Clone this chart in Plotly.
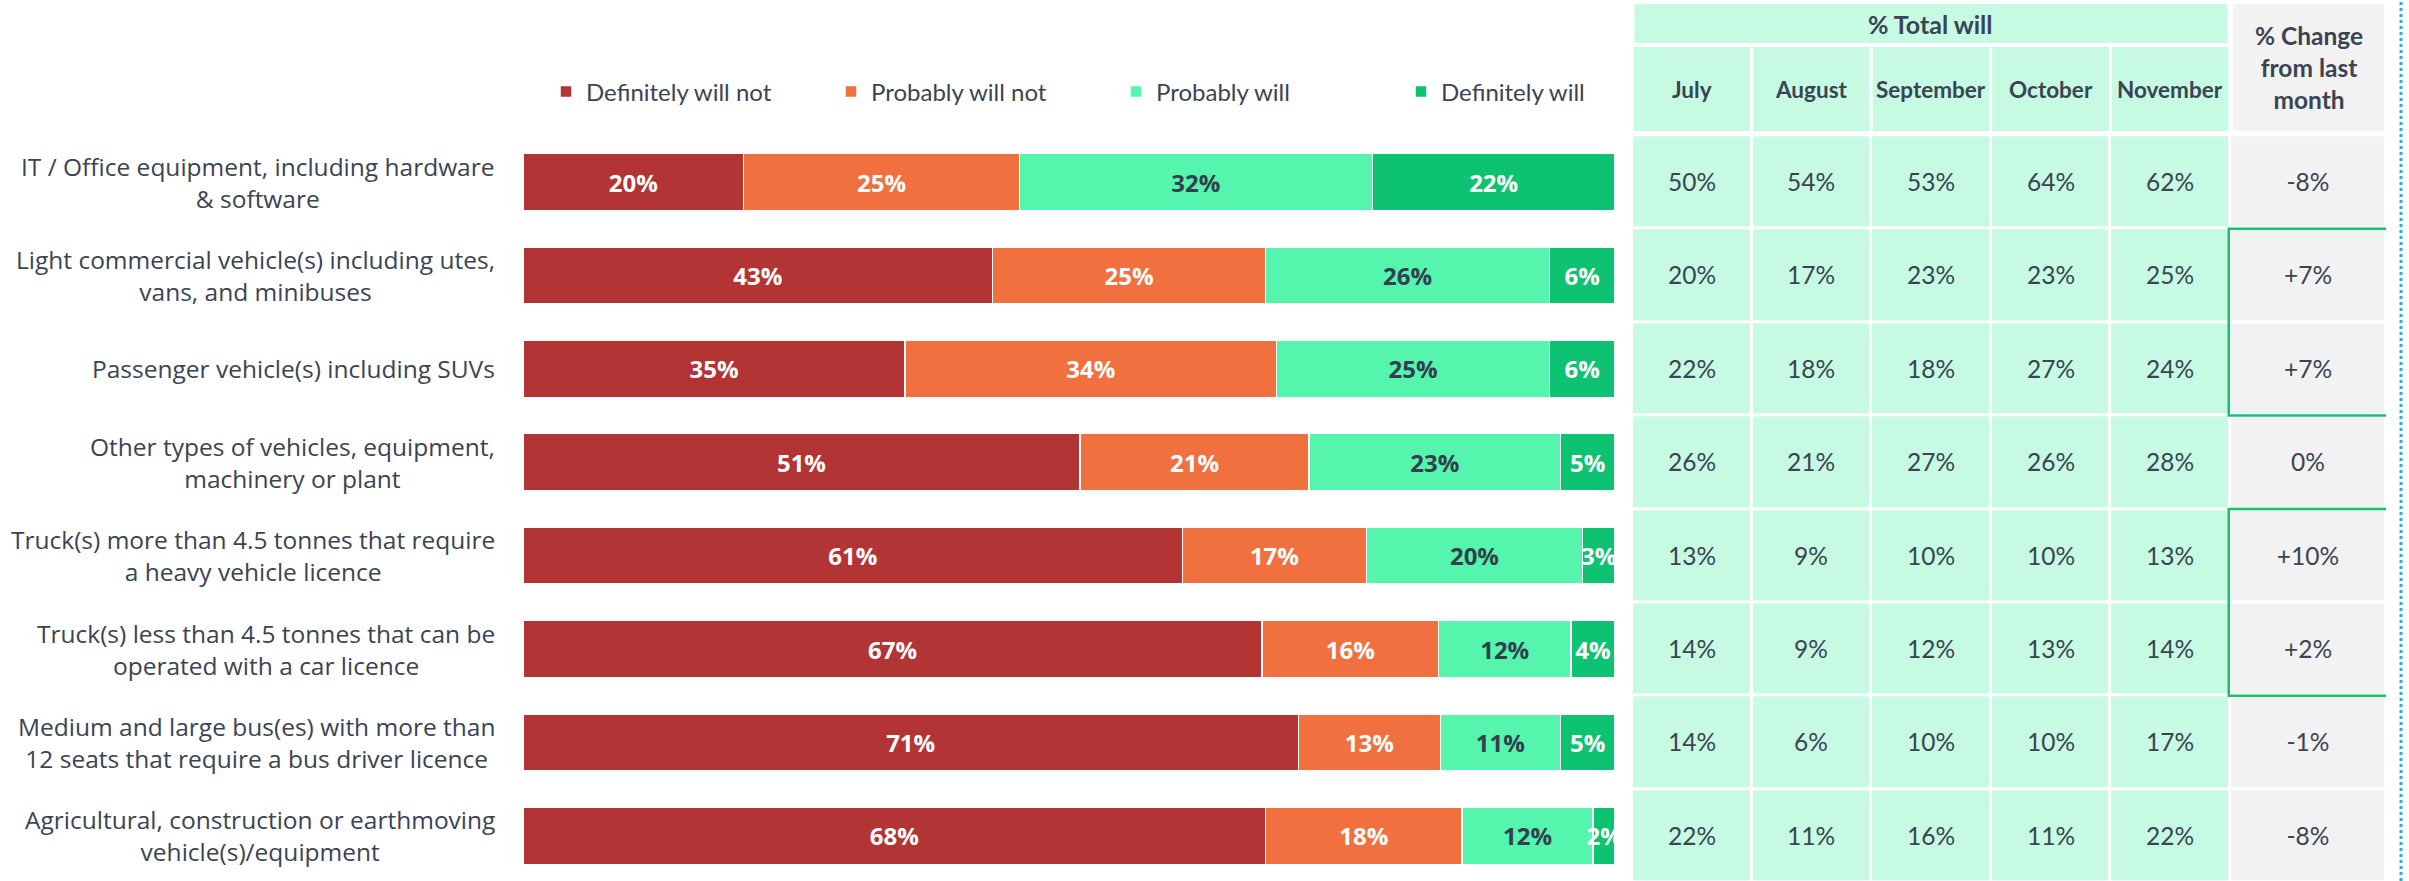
import plotly.graph_objects as go

# ---------------- data ----------------
categories = [
    "IT / Office equipment, including hardware<br>& software",
    "Light commercial vehicle(s) including utes,<br>vans, and minibuses",
    "Passenger vehicle(s) including SUVs",
    "Other types of vehicles, equipment,<br>machinery or plant",
    "Truck(s) more than 4.5 tonnes that require<br>a heavy vehicle licence",
    "Truck(s) less than 4.5 tonnes that can be<br>operated with a car licence",
    "Medium and large bus(es) with more than<br>12 seats that require a bus driver licence",
    "Agricultural, construction or earthmoving<br>vehicle(s)/equipment",
]
series_names = ["Definitely will not", "Probably will not", "Probably will", "Definitely will"]
definitely_not = [20, 43, 35, 51, 61, 67, 71, 68]
probably_not = [25, 25, 34, 21, 17, 16, 13, 18]
probably_will = [32, 26, 25, 23, 20, 12, 11, 12]
definitely_will = [22, 6, 6, 5, 3, 4, 5, 2]

months = ["July", "August", "September", "October", "November"]
july = [50, 20, 22, 26, 13, 14, 14, 22]
august = [54, 17, 18, 21, 9, 9, 6, 11]
september = [53, 23, 18, 27, 10, 12, 10, 16]
october = [64, 23, 27, 26, 10, 13, 10, 11]
november = [62, 25, 24, 28, 13, 14, 17, 22]
change = ["-8%", "+7%", "+7%", "0%", "+10%", "+2%", "-1%", "-8%"]
highlight_groups = [(1, 2), (4, 5)]

# ---------------- styling / geometry ----------------
W, H = 2409, 881
ROW0, PITCH = 182.0, 93.4          # pixel centre of first row, row pitch
def u(py):                          # page pixel -> row units
    return (py - ROW0) / PITCH

colors = ["#B23434", "#F07040", "#55F5AE", "#0DC270"]
label_colors = ["white", "white", "#333F4F", "white"]
TXT = "#3A4452"
MINT = "#C6FAE2"
GRAY = "#F2F2F2"
GREEN_BORDER = "#17C172"

rows = list(range(len(categories)))
series_vals = [definitely_not, probably_not, probably_will, definitely_will]

fig = go.Figure()
for name, vals, col, lc in zip(series_names, series_vals, colors, label_colors):
    fig.add_trace(go.Bar(
        y=rows, x=vals, name=name, orientation="h",
        marker=dict(color=col, line=dict(color="white", width=1.5)),
        text=[f"{v}%" for v in vals], texttemplate="%{text}",
        textposition="inside", insidetextanchor="middle", constraintext="none",
        textangle=0,
        textfont=dict(family="Open Sans", size=24, color=lc, weight=700),
        hoverinfo="skip", xaxis="x", yaxis="y",
    ))

# table as heatmap
month_cols = [july, august, september, october, november]
z, txt = [], []
for i in rows:
    z.append([0] * len(months) + [1])
    txt.append([f"{c[i]}%" for c in month_cols] + [change[i]])
x_edges = [0, 1, 2, 3, 4, 5, 6.305]
y_edges = [r - 0.5 for r in rows] + [rows[-1] + 0.5]
fig.add_trace(go.Heatmap(
    z=z, x=x_edges, y=y_edges, text=txt, texttemplate="%{text}",
    textfont=dict(family="Lato", size=24.5, color=TXT),
    colorscale=[[0, MINT], [0.5, MINT], [0.5, GRAY], [1, GRAY]],
    zmin=0, zmax=1, showscale=False, xgap=3, ygap=3,
    hoverinfo="skip", xaxis="x2", yaxis="y", showlegend=False,
))

shapes, annotations = [], []
# header cells
shapes.append(dict(type="rect", xref="x2", yref="y", x0=0.02, x1=4.98,
                   y0=u(4), y1=u(43), fillcolor=MINT, line_width=0, layer="below"))
for j, m in enumerate(months):
    shapes.append(dict(type="rect", xref="x2", yref="y", x0=j + 0.0125, x1=j + 0.9875,
                       y0=u(47), y1=u(131), fillcolor=MINT, line_width=0, layer="below"))
    annotations.append(dict(xref="x2", yref="y", x=j + 0.5, y=u(89), text=f"<b>{m}</b>",
                            showarrow=False, font=dict(family="Lato", size=22.5, color=TXT)))
annotations.append(dict(xref="x2", yref="y", x=2.5, y=u(24), text="<b>% Total will</b>",
                        showarrow=False, font=dict(family="Lato", size=25, color=TXT)))
shapes.append(dict(type="rect", xref="x2", yref="y", x0=5.025, x1=6.29,
                   y0=u(4), y1=u(131), fillcolor=GRAY, line_width=0, layer="below"))
annotations.append(dict(xref="x2", yref="y", x=5.66, y=u(67),
                        text="<b>% Change<br>from last<br>month</b>",
                        showarrow=False, font=dict(family="Lato", size=24.5, color=TXT)))
# highlight borders
for a, b in highlight_groups:
    shapes.append(dict(type="rect", xref="x2", yref="y", x0=4.99, x1=6.315,
                       y0=a - 0.5, y1=b + 0.5, line=dict(color=GREEN_BORDER, width=2.5),
                       fillcolor="rgba(0,0,0,0)", layer="above"))
# dotted cyan line at right
shapes.append(dict(type="line", xref="paper", yref="paper", x0=2401 / W, x1=2401 / W,
                   y0=0, y1=1, line=dict(color="#1AB6D4", width=3, dash="dot")))

# category labels
for i, c in enumerate(categories):
    annotations.append(dict(xref="paper", yref="y", x=497 / W, y=i, text=c,
                            xanchor="right", align="center", showarrow=False,
                            font=dict(family="Open Sans", size=24.5, color=TXT)))

fig.update_layout(
    width=W, height=H, margin=dict(l=0, r=0, t=0, b=0),
    paper_bgcolor="white", plot_bgcolor="white",
    barmode="stack", barnorm="percent", bargap=0.39,
    xaxis=dict(domain=[523 / W, 1615 / W], range=[0, 100], visible=False, fixedrange=True),
    xaxis2=dict(domain=[1632 / W, 2386 / W], range=[0, 6.305], visible=False,
                anchor="y", fixedrange=True),
    yaxis=dict(range=[u(H), u(0)], visible=False, domain=[0, 1], fixedrange=True),
    legend=dict(orientation="h", x=546 / W, y=1 - 92 / H, xanchor="left", yanchor="middle",
                font=dict(family="Lato", size=24, color=TXT), traceorder="normal",
                entrywidth=240, entrywidthmode="pixels", bgcolor="rgba(0,0,0,0)"),
    shapes=shapes, annotations=annotations,
)
fig.write_html("out.html")
